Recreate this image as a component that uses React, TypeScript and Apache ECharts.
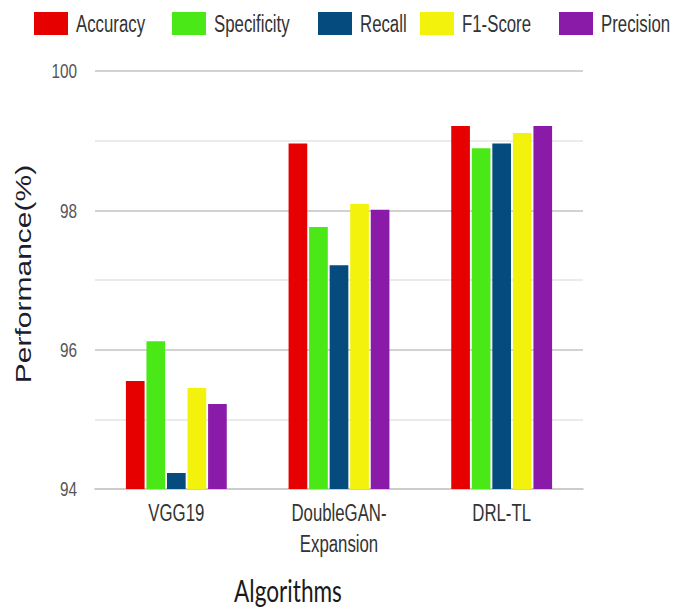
import React, { useEffect, useRef } from "react";
import * as echarts from "echarts";

const categories = ["VGG19", "DoubleGAN-\nExpansion", "DRL-TL"];
const seriesNames = ["Accuracy", "Specificity", "Recall", "F1-Score", "Precision"];
const accuracy = [95.55, 98.96, 99.21];
const specificity = [96.12, 97.76, 98.89];
const recall = [94.23, 97.21, 98.96];
const f1Score = [95.45, 98.09, 99.11];
const precision = [95.22, 98.01, 99.21];
const seriesValues = [accuracy, specificity, recall, f1Score, precision];
const colors = ["#E60000", "#4BE817", "#064B7E", "#F2F20D", "#8A1AA8"];
const yTickLabels = ["94", "96", "98", "100"];

// The reference is a horizontally compressed chart: draw wide, then squeeze.
const SQ = 0.7301;
const W = 941;
const H = 609;
const sx = (x: number) => x / SQ;
const legendLeft = [34, 172, 318, 420, 559];
const FONT = "'Liberation Sans', Arial, sans-serif";

export default function App() {
  const ref = useRef<HTMLDivElement>(null);
  useEffect(() => {
    document.body.style.margin = "0";
    document.body.style.overflow = "hidden";
    if (!ref.current) return;
    const chart = echarts.init(ref.current, null, { renderer: "svg", width: W, height: H });
    chart.setOption({
      animation: false,
      backgroundColor: "#ffffff",
      color: colors,
      title: {
        text: "Algorithms",
        left: sx(288),
        top: 574,
        padding: 0,
        textAlign: "center",
        textStyle: { fontFamily: "Lato, 'Liberation Sans', sans-serif", fontSize: 31, fontWeight: "normal", color: "#1a1a1a" },
      },
      legend: seriesNames.map((n, i) => ({
        data: [n],
        left: sx(legendLeft[i]),
        top: 12,
        padding: 0,
        itemWidth: sx(34),
        itemHeight: 23,
        icon: "rect",
        selectedMode: false,
        textStyle: { fontFamily: FONT, fontSize: 23, color: "#333333", padding: [0, 0, 0, 6] },
      })),
      grid: { left: sx(95), right: W - sx(583), top: 71, height: 418, containLabel: false },
      xAxis: {
        type: "category",
        data: categories,
        axisTick: { show: false },
        axisLine: { show: true, lineStyle: { color: "#cccccc", width: 2 } },
        axisLabel: {
          margin: 9,
          fontFamily: FONT,
          fontSize: 23,
          lineHeight: 31,
          color: "#333333",
          verticalAlign: "top",
        },
      },
      yAxis: {
        type: "value",
        min: 94,
        max: 100,
        interval: 1,
        name: "Performance(%)",
        nameLocation: "middle",
        nameGap: 83,
        nameTextStyle: { fontFamily: FONT, fontSize: 30, color: "#1c1c2c", padding: [0, 0, 0, 12] },
        axisLine: { show: false },
        axisTick: { show: false },
        axisLabel: {
          margin: sx(18),
          fontFamily: FONT,
          fontSize: 21,
          color: "#555555",
          formatter: (v: number) => (yTickLabels.includes(String(v)) ? String(v) : ""),
        },
        splitLine: { show: true, lineStyle: { color: ["#d2d2d2", "#ebebeb"], width: 2 } },
      },
      series: seriesNames.map((n, i) => ({
        name: n,
        type: "bar",
        data: seriesValues[i],
        barGap: "10%",
        barCategoryGap: "38%",
        itemStyle: { color: colors[i] },
      })),
    });
    return () => chart.dispose();
  }, []);
  return (
    <div
      ref={ref}
      style={{
        position: "fixed",
        left: 0,
        top: 0,
        width: W,
        height: H,
        transform: `scaleX(${SQ})`,
        transformOrigin: "left top",
      }}
    />
  );
}
